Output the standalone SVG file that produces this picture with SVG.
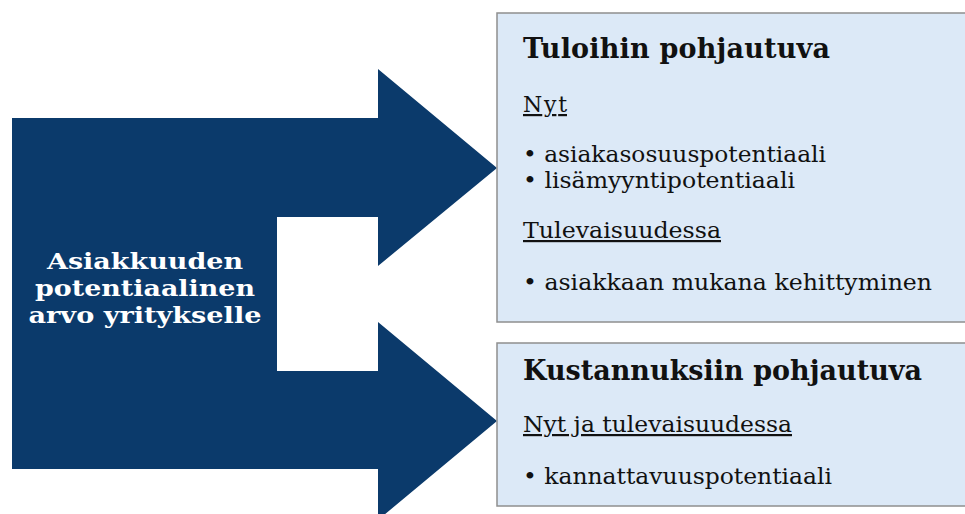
<svg xmlns="http://www.w3.org/2000/svg" width="965" height="514" viewBox="0 0 965 514">
<style>
.arrow{fill:#0b3a6b;}
.box{fill:#dce9f7;stroke:#8f8f8f;stroke-width:1.5;}
.t{font-family:"DejaVu Serif","Liberation Serif",serif;fill:#111;}
.h{font-weight:bold;font-size:27px;}
.b{font-size:22px;}
.u{text-decoration:underline;}
.w{font-family:"DejaVu Serif","Liberation Serif",serif;fill:#fff;font-weight:bold;font-size:22.5px;text-anchor:middle;}
</style>
<rect width="965" height="514" fill="#fff"/>
<g id="connectors">
<polygon class="arrow" points="12,118 378,118 378,69 497,168 378,266 378,217 277,217 277,371 378,371 378,322 497,421 378,520 378,469 12,469"/>
</g>
<g id="source">
<text class="w" x="145" y="269" textLength="196" lengthAdjust="spacingAndGlyphs">Asiakkuuden</text>
<text class="w" x="145" y="296" textLength="220" lengthAdjust="spacingAndGlyphs">potentiaalinen</text>
<text class="w" x="145" y="323" textLength="233" lengthAdjust="spacingAndGlyphs">arvo yritykselle</text>
</g>
<g id="revenue">
<rect class="box" x="497" y="13" width="470" height="309"/>
<text class="t h" x="523" y="58" textLength="307">Tuloihin pohjautuva</text>
<text class="t b u" x="523" y="112" textLength="44">Nyt</text>
<text class="t b" x="523" y="162" textLength="303" lengthAdjust="spacingAndGlyphs">• asiakasosuuspotentiaali</text>
<text class="t b" x="523" y="188" textLength="272" lengthAdjust="spacingAndGlyphs">• lisämyyntipotentiaali</text>
<text class="t b u" x="523" y="238" textLength="198" lengthAdjust="spacingAndGlyphs">Tulevaisuudessa</text>
<text class="t b" x="523" y="290" textLength="409" lengthAdjust="spacingAndGlyphs">• asiakkaan mukana kehittyminen</text>
</g>
<g id="cost">
<rect class="box" x="497" y="343" width="470" height="163"/>
<text class="t h" x="523" y="380" textLength="399">Kustannuksiin pohjautuva</text>
<text class="t b u" x="523" y="432" textLength="269" lengthAdjust="spacingAndGlyphs">Nyt ja tulevaisuudessa</text>
<text class="t b" x="523" y="484" textLength="309" lengthAdjust="spacingAndGlyphs">• kannattavuuspotentiaali</text>
</g>
</svg>
